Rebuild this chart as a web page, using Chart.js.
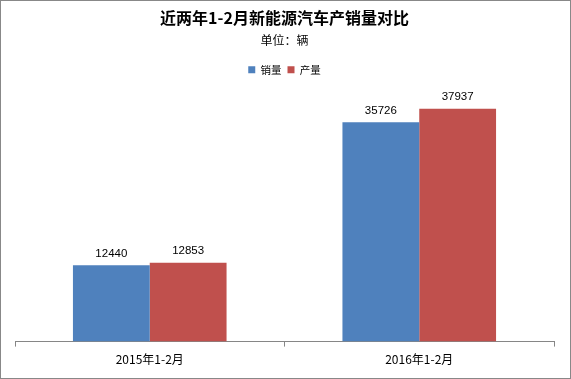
<!DOCTYPE html>
<html><head><meta charset="utf-8">
<script src="https://cdn.jsdelivr.net/npm/chart.js@4"></script>
<style>
html,body{margin:0;padding:0;background:#fff;}
#wrap{width:571px;height:379px;box-sizing:border-box;border:1px solid #888;background:#fff;}
canvas{display:block;}
</style></head>
<body><div id="wrap"><canvas id="c" width="569" height="377"></canvas></div>
<script>
const categories = ['2015年1-2月', '2016年1-2月'];
const salesValues = [12440, 35726];
const productionValues = [12853, 37937];
const seriesNames = ['销量', '产量'];
const titleText = '近两年1-2月新能源汽车产销量对比';
const subtitleText = '单位：辆';

const CJK = '"Noto Sans CJK SC", "Noto Sans", sans-serif';

const dataLabels = {
  id: 'dataLabels',
  afterDatasetsDraw(chart) {
    const ctx = chart.ctx;
    ctx.save();
    ctx.font = '11.5px "Liberation Sans", sans-serif';
    ctx.fillStyle = '#000';
    ctx.textAlign = 'center';
    ctx.textBaseline = 'bottom';
    chart.data.datasets.forEach((ds, i) => {
      const meta = chart.getDatasetMeta(i);
      meta.data.forEach((el, j) => {
        ctx.fillText(String(ds.data[j]), el.x, el.y - 6);
      });
    });
    ctx.restore();
  }
};

const legendGap = {
  id: 'legendGap',
  beforeInit(chart) {
    const orig = chart.legend.fit;
    chart.legend.fit = function () {
      orig.call(this);
      this.height += 11;
    };
  }
};

new Chart(document.getElementById('c'), {
  type: 'bar',
  data: {
    labels: categories,
    datasets: [
      { label: seriesNames[0], data: salesValues, backgroundColor: '#4F81BD' },
      { label: seriesNames[1], data: productionValues, backgroundColor: '#C0504D' }
    ]
  },
  options: {
    responsive: false,
    animation: false,
    devicePixelRatio: 1,
    layout: { padding: { left: 14, right: 16, bottom: 5, top: 0 } },
    datasets: { bar: { categoryPercentage: 0.57, barPercentage: 1.0 } },
    plugins: {
      title: {
        display: true, text: titleText, color: '#000',
        font: { family: CJK, size: 16, weight: 'bold' },
        padding: { top: 7, bottom: 0 }
      },
      subtitle: {
        display: true, text: subtitleText, color: '#000',
        font: { family: CJK, size: 12 },
        padding: { top: 6, bottom: 11 }
      },
      legend: {
        display: true, position: 'top',
        labels: {
          color: '#000', boxWidth: 7, boxHeight: 7, padding: 6,
          font: { family: CJK, size: 10.5 }
        }
      },
      tooltip: { enabled: false }
    },
    scales: {
      x: {
        grid: { display: true, drawOnChartArea: false, drawTicks: true, tickLength: 5, color: '#868686', offset: true },
        border: { display: true, color: '#868686' },
        ticks: { color: '#000', padding: 6, font: { family: CJK, size: 12 } }
      },
      y: {
        display: false, min: 0, max: 40000
      }
    }
  },
  plugins: [dataLabels, legendGap]
});
</script></body></html>
